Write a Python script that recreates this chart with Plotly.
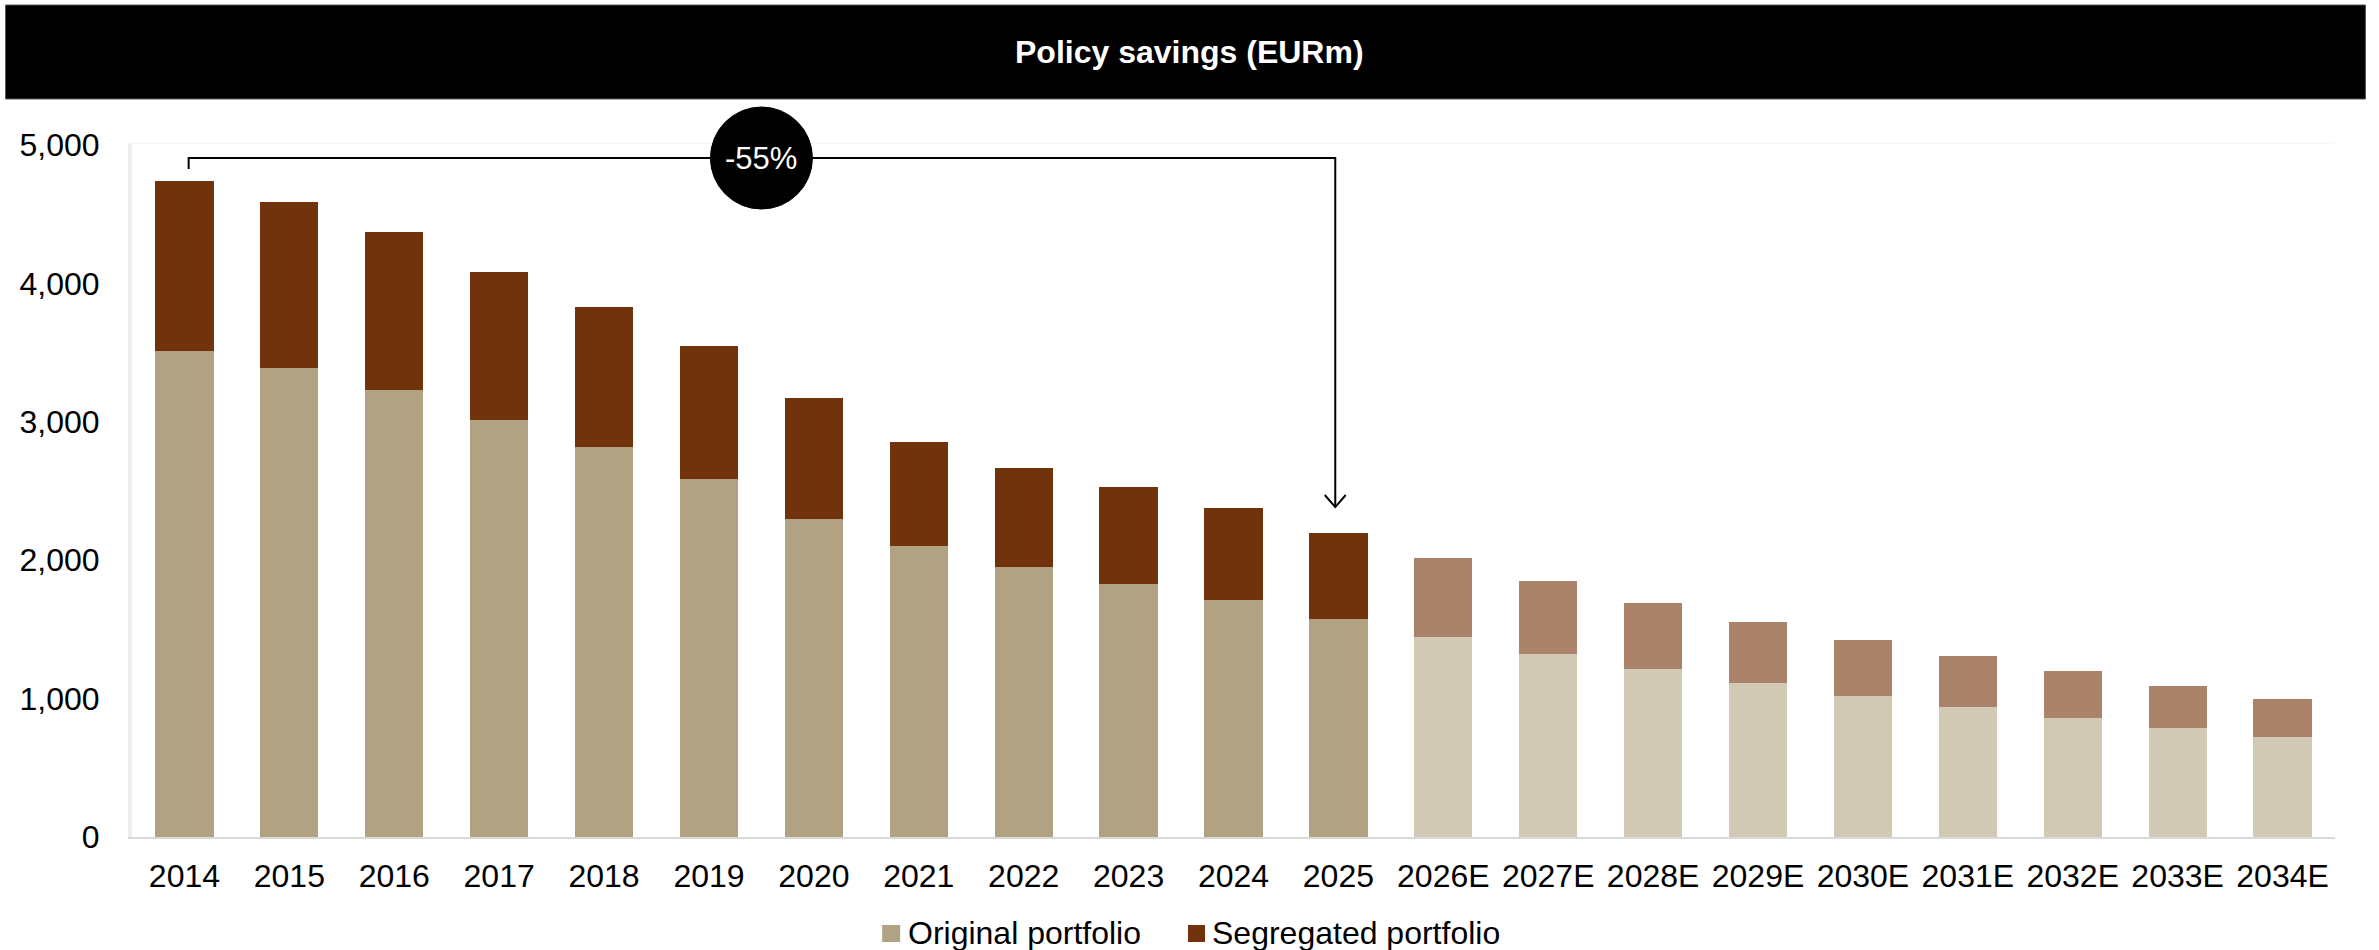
import plotly.graph_objects as go

# Policy savings by year (EURm): original vs segregated portfolio
years = ["2014", "2015", "2016", "2017", "2018", "2019", "2020", "2021", "2022",
         "2023", "2024", "2025", "2026E", "2027E", "2028E", "2029E", "2030E",
         "2031E", "2032E", "2033E", "2034E"]
original = [3512, 3386, 3227, 3013, 2820, 2584, 2298, 2103, 1949, 1828, 1710,
            1575, 1445, 1322, 1212, 1113, 1019, 939, 860, 788, 723]
segregated = [1228, 1202, 1142, 1067, 1009, 966, 872, 753, 715, 699, 667,
              622, 571, 528, 479, 440, 404, 369, 339, 303, 274]
y_ticks = [0, 1000, 2000, 3000, 4000, 5000]
change_label = "-55%"

# Colours: actuals vs estimates (years ending in "E")
ORIG_ACT, ORIG_EST = "#B1A283", "#D2C9B5"
SEG_ACT, SEG_EST = "#71330B", "#AA836A"
orig_colors = [ORIG_EST if y.endswith("E") else ORIG_ACT for y in years]
seg_colors = [SEG_EST if y.endswith("E") else SEG_ACT for y in years]

FONT = "Arial, 'Liberation Sans', sans-serif"
W, H = 2379, 950
L, R, T, B = 131.5, 2335.5, 143, 837
Y_MAX = 5000 * (B - T) / 692


def px_x(x):
    return (x - L) / (R - L)


def px_y(y):
    return (B - y) / (B - T)


def cat_to_paper(i):
    # category axis spans [-0.5, n - 0.5]
    return (i + 0.5) / len(years)


fig = go.Figure()
fig.add_trace(go.Bar(x=years, y=original, name="Original portfolio",
                     marker=dict(color=orig_colors, line_width=0)))
fig.add_trace(go.Bar(x=years, y=segregated, name="Segregated portfolio",
                     marker=dict(color=seg_colors, line_width=0)))

# Bracket from the first bar to 2025 with the percentage change bubble
i0 = years.index("2014")
i1 = years.index("2025")
level = 4906
tick_end = 4827
tip = 2384
x_left = i0 + 0.04
x_right = i1 - 0.03
shapes = [
    # title band
    dict(type="rect", xref="paper", yref="paper",
         x0=px_x(5), x1=px_x(2366), y0=px_y(99), y1=px_y(5),
         fillcolor="black", line=dict(color="#555555", width=1), layer="above"),
    # faint top edge of the plot area
    dict(type="line", xref="paper", yref="paper",
         x0=px_x(128), x1=1, y0=1, y1=1,
         line=dict(color="#f2f2f2", width=1)),
    # bracket line
    dict(type="path", xref="x", yref="y",
         path=f"M {x_left},{tick_end} L {x_left},{level} L {x_right},{level} L {x_right},{tip}",
         line=dict(color="black", width=2)),
    # open arrow head
    dict(type="path", xref="x", yref="y",
         path=f"M {x_right - 0.1},{tip + 87} L {x_right},{tip} L {x_right + 0.1},{tip + 87}",
         line=dict(color="black", width=2)),
    # bubble (paper-referenced so it may extend above the plot area)
    dict(type="circle", xref="paper", yref="paper", xsizemode="pixel", ysizemode="pixel",
         xanchor=cat_to_paper((i0 + i1) / 2), yanchor=level / Y_MAX,
         x0=-51, x1=51, y0=-51, y1=51,
         fillcolor="black", line=dict(color="black", width=1), layer="above"),
    # legend swatches
    dict(type="rect", xref="paper", yref="paper",
         x0=px_x(882), x1=px_x(900), y0=px_y(942), y1=px_y(925),
         fillcolor=ORIG_ACT, line_width=0),
    dict(type="rect", xref="paper", yref="paper",
         x0=px_x(1188), x1=px_x(1205), y0=px_y(942), y1=px_y(925),
         fillcolor=SEG_ACT, line_width=0),
]

annotations = [
    dict(text="<b>Policy savings (EURm)</b>", xref="paper", yref="paper",
         x=px_x(W / 2), y=px_y(52), showarrow=False,
         font=dict(family=FONT, size=32, color="white"),
         xanchor="center", yanchor="middle"),
    dict(text=change_label, xref="x", yref="y", x=(i0 + i1) / 2, y=level,
         showarrow=False, font=dict(family=FONT, size=31, color="white"),
         xanchor="center", yanchor="middle"),
    dict(text="Original portfolio", xref="paper", yref="paper",
         x=px_x(906), y=px_y(933), showarrow=False, xanchor="left", yanchor="middle",
         font=dict(family=FONT, size=32, color="black")),
    dict(text="Segregated portfolio", xref="paper", yref="paper",
         x=px_x(1210), y=px_y(933), showarrow=False, xanchor="left", yanchor="middle",
         font=dict(family=FONT, size=32, color="black")),
]

fig.update_layout(
    width=W, height=H,
    margin=dict(l=L, r=W - R, t=T, b=H - B, pad=0),
    barmode="stack", bargap=0.445,
    paper_bgcolor="white", plot_bgcolor="white",
    showlegend=False,
    font=dict(family=FONT, size=32, color="black"),
    shapes=shapes, annotations=annotations,
    xaxis=dict(type="category", range=[-0.5, len(years) - 0.5],
               showline=True, linecolor="#d9d9d9", linewidth=2,
               showgrid=False, ticks="", ticklabelstandoff=10,
               tickfont=dict(family=FONT, size=32, color="black")),
    yaxis=dict(range=[0, Y_MAX], tickvals=y_ticks,
               tickformat=",", showgrid=False, zeroline=False,
               showline=True, linecolor="#eeeeee", linewidth=4,
               ticks="", ticklabelstandoff=22,
               tickfont=dict(family=FONT, size=32, color="black")),
)

fig.write_html("out.html")
